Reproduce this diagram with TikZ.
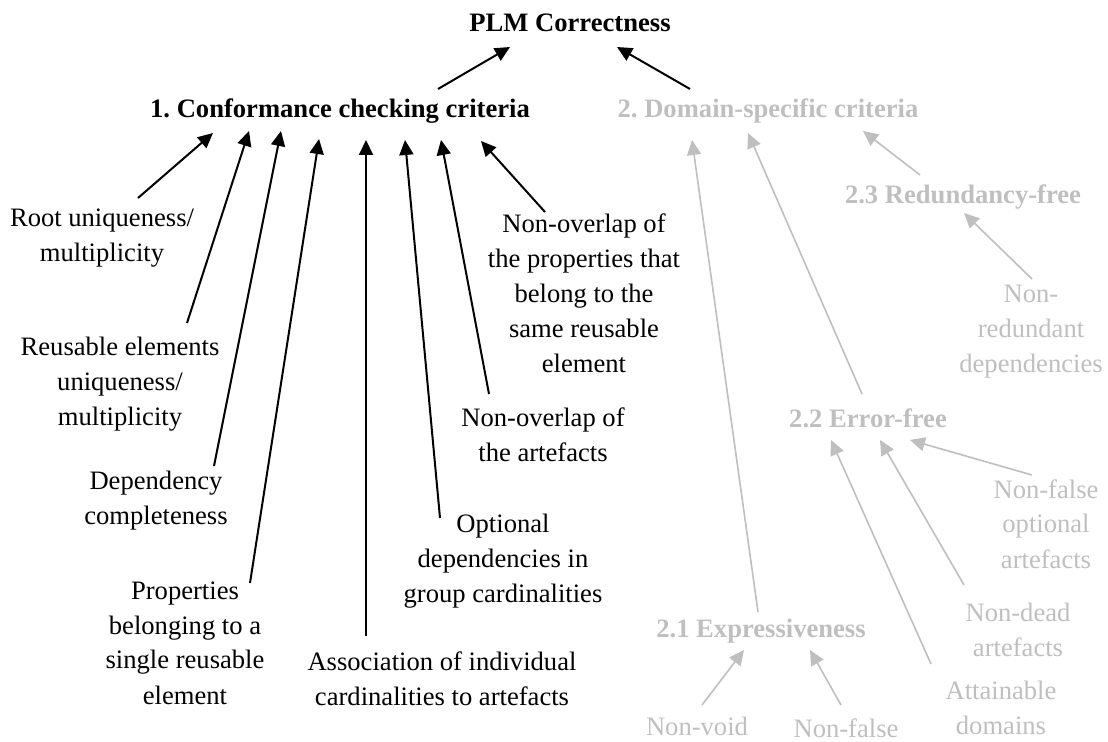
\documentclass[tikz,border=0pt]{standalone}
\usepackage{fontspec}
\setmainfont{Liberation Serif}
\usetikzlibrary{arrows.meta}
\definecolor{gris}{RGB}{191,191,191}
\begin{document}
\begin{tikzpicture}[x=0.5pt,y=-0.5pt,
    txt/.style={anchor=base,align=center,inner sep=0pt,font=\fontsize{13.3}{17.5}\selectfont},
    tit/.style={txt,font=\fontsize{13.3}{17.5}\selectfont\bfseries},
    flecha/.style={-{Triangle[length=7.5pt,width=7pt]},line width=1pt},
    flechagris/.style={flecha,gris,line width=0.8pt}]

    \useasboundingbox (0,0) rectangle (1108,742);

    %Titulos
    \node[tit] (plm) at (570,32) {PLM Correctness};
    \node[tit] (conf) at (340,118) {1.\ Conformance checking criteria};
    \node[tit,gris] (dom) at (768,118) {2.\ Domain-specific criteria};

    %Criterios de conformidad (base = ultima linea)
    \node[txt] (root) at (102,262) {Root uniqueness/\\multiplicity};
    \node[txt] (reuse) at (120,426) {Reusable elements\\uniqueness/\\multiplicity};
    \node[txt] (dep) at (156,525) {Dependency\\completeness};
    \node[txt] (prop) at (185,704) {Properties\\belonging to a\\single reusable\\element};
    \node[txt] (assoc) at (442,705) {Association of individual\\cardinalities to artefacts};
    \node[txt] (opt) at (503,603) {Optional\\dependencies in\\group cardinalities};
    \node[txt] (novart) at (543,462) {Non-overlap of\\the artefacts};
    \node[txt] (novprop) at (584,373) {Non-overlap of\\the properties that\\belong to the\\same reusable\\element};

    %Criterios de dominio
    \node[tit,gris] (expr) at (761,637) {2.1 Expressiveness};
    \node[tit,gris] (err) at (868,428) {2.2 Error-free};
    \node[tit,gris] (red) at (963,204) {2.3 Redundancy-free};
    \node[txt,gris] (nonred) at (1031,373) {Non-\\redundant\\dependencies};
    \node[txt,gris] (nfopt) at (1046,568) {Non-false\\optional\\artefacts};
    \node[txt,gris] (ndead) at (1018,656) {Non-dead\\artefacts};
    \node[txt,gris] (attain) at (1001,734) {Attainable\\domains};
    \node[txt,gris] (nvoid) at (697,735) {Non-void};
    \node[txt,gris] (nfalse) at (846,737) {Non-false};

    %Flechas negras
    \draw[flecha] ([shift={(98,-29)}]conf.base) -- ([shift={(-60,15)}]plm.base);
    \draw[flecha] ([shift={(-78,-29)}]dom.base) -- ([shift={(47,15)}]plm.base);
    \draw[flecha] ([shift={(36,-64)}]root.base) -- ([shift={(-127,15)}]conf.base);
    \draw[flecha] ([shift={(67,-103)}]reuse.base) -- ([shift={(-91,13)}]conf.base);
    \draw[flecha] ([shift={(58,-59)}]dep.base) -- ([shift={(-59,13)}]conf.base);
    \draw[flecha] ([shift={(65,-121)}]prop.base) -- ([shift={(-21,21)}]conf.base);
    \draw[flecha] ([shift={(-76,-69)}]assoc.base) -- ([shift={(26,22)}]conf.base);
    \draw[flecha] ([shift={(-63,-85)}]opt.base) -- ([shift={(65,22)}]conf.base);
    \draw[flecha] ([shift={(-54,-68)}]novart.base) -- ([shift={(101,22)}]conf.base);
    \draw[flecha] ([shift={(-39,-161)}]novprop.base) -- ([shift={(141,23)}]conf.base);

    %Flechas grises
    \draw[flechagris] ([shift={(-3,-25)}]expr.base) -- ([shift={(-76,22)}]dom.base);
    \draw[flechagris] ([shift={(-6,-34)}]err.base) -- ([shift={(-20,15)}]dom.base);
    \draw[flechagris] ([shift={(-43,-29)}]red.base) -- ([shift={(95,13)}]dom.base);
    \draw[flechagris] ([shift={(1,-94)}]nonred.base) -- ([shift={(1,9)}]red.base);
    \draw[flechagris] ([shift={(-14,-93)}]nfopt.base) -- ([shift={(42,12)}]err.base);
    \draw[flechagris] ([shift={(-54,-71)}]ndead.base) -- ([shift={(12,12)}]err.base);
    \draw[flechagris] ([shift={(-70,-70)}]attain.base) -- ([shift={(-37,12)}]err.base);
    \draw[flechagris] ([shift={(5,-30)}]nvoid.base) -- ([shift={(-17,13)}]expr.base);
    \draw[flechagris] ([shift={(-5,-32)}]nfalse.base) -- ([shift={(49,13)}]expr.base);

\end{tikzpicture}
\end{document}
